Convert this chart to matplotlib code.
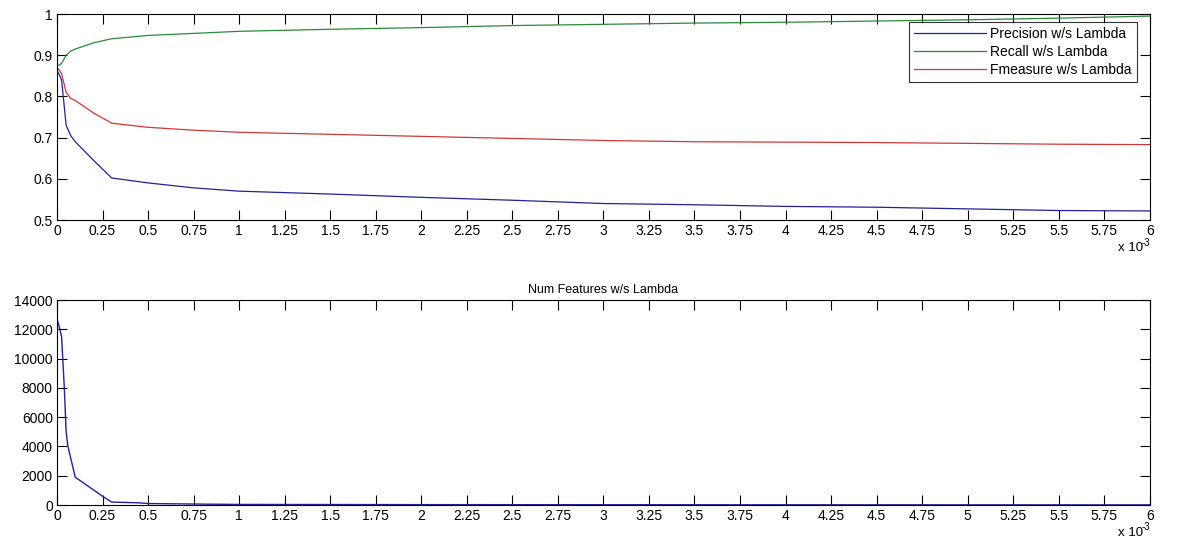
import numpy as np
import matplotlib
matplotlib.use("Agg")
from matplotlib import pyplot as plt
from matplotlib.ticker import FuncFormatter, MultipleLocator
from matplotlib.transforms import offset_copy

# lambda values (real units)
lam = [0.0, 0.01e-3, 0.025e-3, 0.05e-3, 0.075e-3, 0.1e-3, 0.2e-3, 0.3e-3, 0.5e-3, 0.75e-3,
       1.0e-3, 1.5e-3, 2.0e-3, 2.5e-3, 3.0e-3, 3.5e-3, 4.0e-3, 4.5e-3, 5.0e-3, 5.5e-3, 6.0e-3]

precision = [0.862, 0.855, 0.84, 0.73, 0.705, 0.69, 0.645, 0.602, 0.59, 0.578,
             0.57, 0.563, 0.555, 0.548, 0.54, 0.537, 0.533, 0.531, 0.527, 0.523, 0.522]
recall = [0.875, 0.876, 0.88, 0.9, 0.91, 0.915, 0.93, 0.94, 0.948, 0.953,
          0.958, 0.963, 0.967, 0.972, 0.975, 0.978, 0.98, 0.983, 0.986, 0.99, 0.995]
fmeasure = [0.87, 0.865, 0.855, 0.81, 0.795, 0.79, 0.76, 0.735, 0.725, 0.718,
            0.713, 0.708, 0.703, 0.698, 0.693, 0.69, 0.689, 0.688, 0.686, 0.684, 0.683]

lam_f = [0.0, 0.01e-3, 0.025e-3, 0.04e-3, 0.05e-3, 0.06e-3, 0.1e-3, 0.25e-3, 0.3e-3,
         0.45e-3, 0.5e-3, 0.8e-3, 1.0e-3, 2.0e-3, 4.0e-3, 6.0e-3]
num_features = [12700, 12300, 11500, 8000, 5000, 4000, 1900, 600, 200,
                150, 100, 60, 40, 25, 15, 10]

plt.rcParams['font.family'] = ['Liberation Sans', 'DejaVu Sans']

fig = plt.figure(figsize=(11.93, 5.5), dpi=100)
ax1 = fig.add_axes([0.0478, 0.6, 0.916, 0.3745])
ax2 = fig.add_axes([0.0478, 0.0818, 0.916, 0.3727])

# x in units of 1e-3
fmt = FuncFormatter(lambda v, p: ('%g' % round(v / 1e-3, 4)))

def style(ax):
    ax.set_xlim(0, 6e-3)
    ax.xaxis.set_major_locator(MultipleLocator(0.25e-3))
    ax.xaxis.set_major_formatter(fmt)
    ax.tick_params(direction='in', top=True, right=True, length=7, width=0.8,
                   labelsize=10, pad=3, colors='black')
    for s in ax.spines.values():
        s.set_linewidth(0.8)
    # exponent label, like matlab's "x 10^-3"
    t = offset_copy(ax.transAxes, fig=fig, x=-7, y=0, units='dots')
    ax.text(1.0, -0.105, 'x 10', transform=t, ha='right', va='top', fontsize=9.5)
    ax.text(1.0, -0.085, '-3', transform=ax.transAxes, ha='right', va='top', fontsize=7)

ax1.plot(lam, precision, color='#22229a', lw=0.9, label='Precision w/s Lambda')
ax1.plot(lam, recall, color='#2a8a3a', lw=0.9, label='Recall w/s Lambda')
ax1.plot(lam, fmeasure, color='#d03838', lw=0.9, label='Fmeasure w/s Lambda')
ax1.set_ylim(0.5, 1)
ax1.yaxis.set_major_locator(MultipleLocator(0.1))
ax1.yaxis.set_major_formatter(FuncFormatter(lambda v, p: '%g' % round(v, 2)))
style(ax1)
leg = ax1.legend(loc='upper right', bbox_to_anchor=(0.988, 0.961), fontsize=10, handlelength=5.2,
                 frameon=True, fancybox=False, borderaxespad=0, labelspacing=0.3,
                 handletextpad=0.3, borderpad=0.35)
leg.get_frame().set_edgecolor('black')
leg.get_frame().set_linewidth(0.8)

ax2.plot(lam_f, num_features, color='#22229a', lw=1.0)
ax2.set_ylim(0, 14000)
ax2.yaxis.set_major_locator(MultipleLocator(2000))
ax2.set_title('Num Features w/s Lambda', fontsize=9, pad=5)
style(ax2)

fig.savefig('out.png', dpi=100)
